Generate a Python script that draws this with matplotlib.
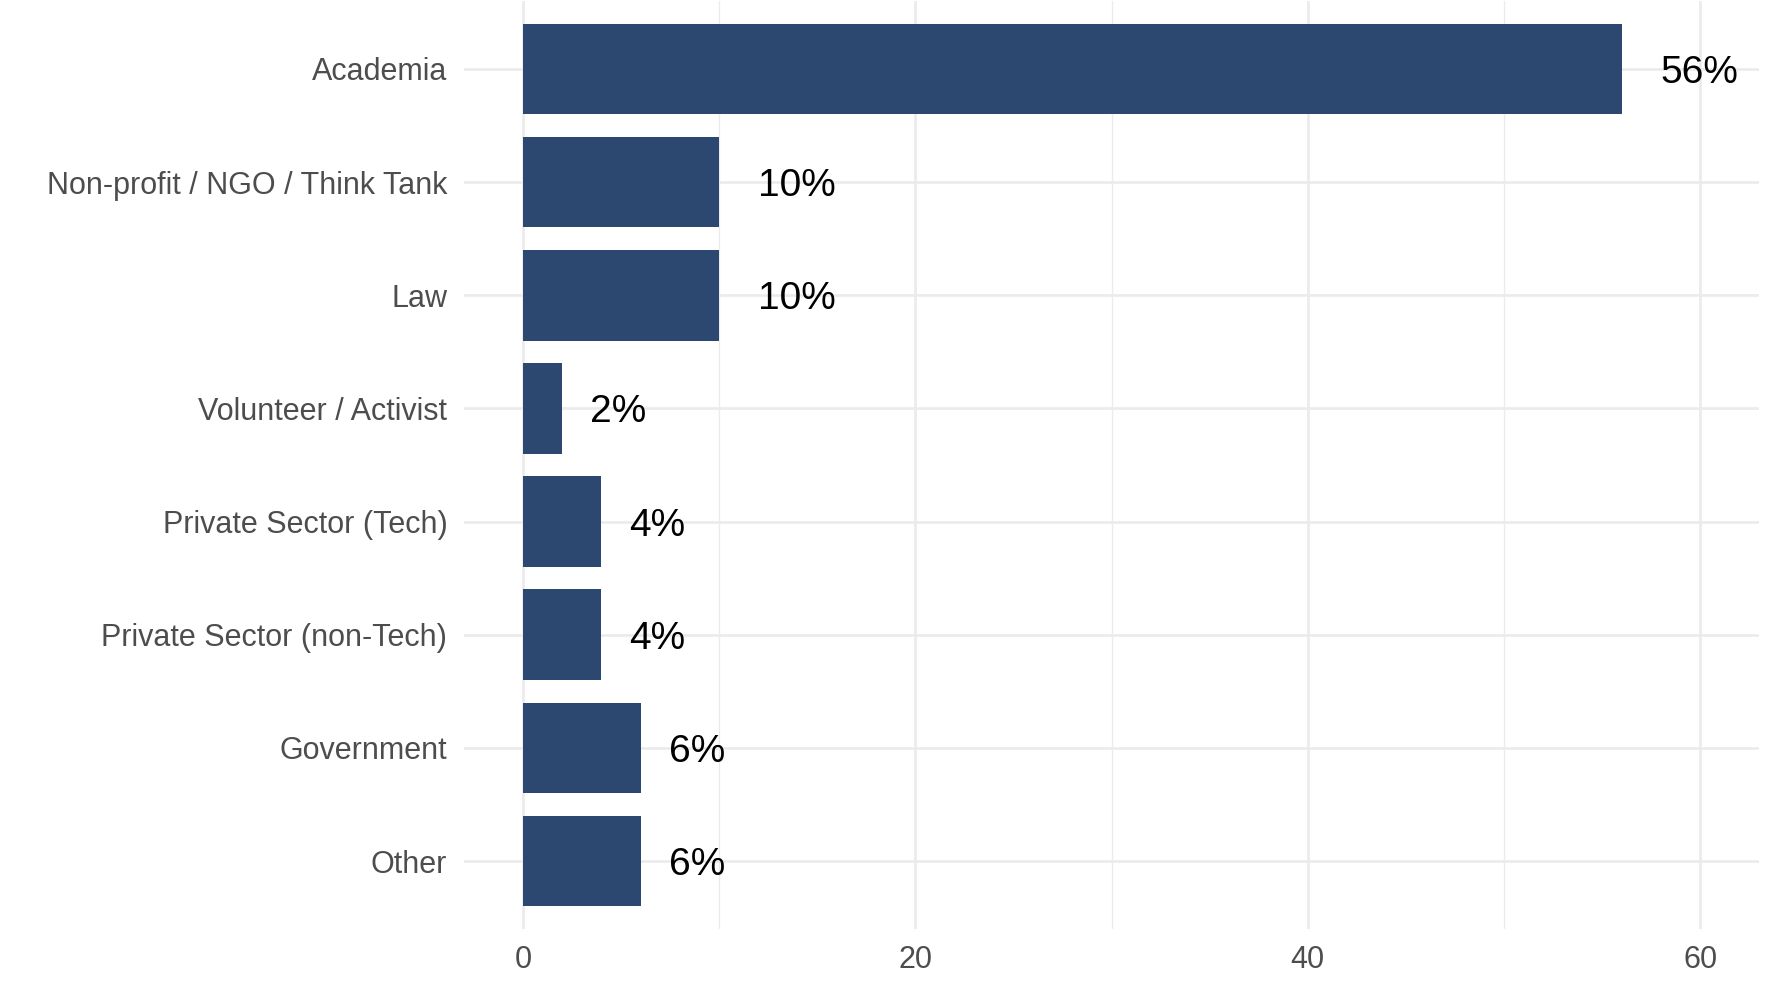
import matplotlib

matplotlib.use("Agg")
import matplotlib.pyplot as plt
from matplotlib.transforms import offset_copy

categories = [
    "Academia",
    "Non-profit / NGO / Think Tank",
    "Law",
    "Volunteer / Activist",
    "Private Sector (Tech)",
    "Private Sector (non-Tech)",
    "Government",
    "Other",
]
values = [56, 10, 10, 2, 4, 4, 6, 6]
x_ticks = [0, 20, 40, 60]
x_minor = [10, 30, 50]

BAR_COLOR = "#2c4770"
GRID_COLOR = "#ebebeb"
LABEL_SIZE = 28

plt.rcParams["font.family"] = ["Liberation Sans", "DejaVu Sans"]

W, H = 1786, 994
fig = plt.figure(figsize=(W / 100, H / 100), dpi=100)
ax = fig.add_axes([464 / W, 1 - 929 / H, (1759 - 464) / W, (929 - 1) / H])

# top category first
ypos = list(range(len(categories), 0, -1))
ax.barh(ypos, values, height=0.8, color=BAR_COLOR, zorder=2)

ax.set_xlim(-3, 63)
ax.set_ylim(0.4, len(categories) + 0.6)
ax.set_xticks(x_ticks)
ax.set_xticks(x_minor, minor=True)
ax.set_yticks(ypos)
ax.set_yticklabels(categories)

ax.grid(True, which="major", axis="both", color=GRID_COLOR, linewidth=1.9, zorder=0)
ax.grid(True, which="minor", axis="x", color=GRID_COLOR, linewidth=1.0, zorder=0)
ax.set_axisbelow(True)
for s in ax.spines.values():
    s.set_visible(False)
ax.tick_params(axis="both", which="both", length=0)
ax.tick_params(axis="y", labelsize=22, labelcolor="#4d4d4d", pad=12)
ax.tick_params(axis="x", labelsize=22, labelcolor="#4d4d4d", pad=11.5)

# value labels, pushed right by half their width (like hjust = -0.5),
# digits centred on the bar
cap_half = 0.716 * LABEL_SIZE * fig.dpi / 72 / 2
labels = []
for y, v in zip(ypos, values):
    t = ax.text(v, y, f"{v}%", fontsize=LABEL_SIZE, color="black",
                ha="left", va="baseline", zorder=3)
    labels.append(t)
fig.canvas.draw()
renderer = fig.canvas.get_renderer()
for t in labels:
    w = t.get_window_extent(renderer).width
    t.set_transform(offset_copy(ax.transData, fig, x=w / 2, y=-cap_half, units="dots"))

fig.savefig("out.png", dpi=100, facecolor="white")
plt.close(fig)
